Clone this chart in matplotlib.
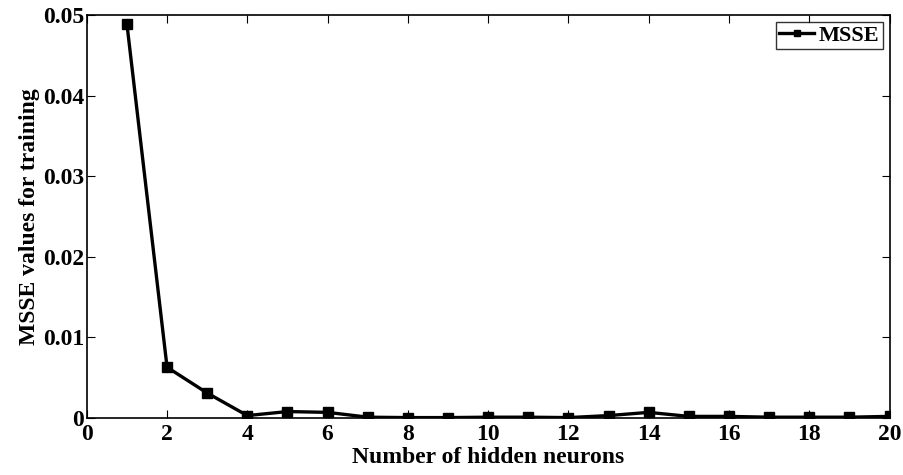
import numpy as np
import matplotlib.pyplot as plt

plt.rcParams['font.family'] = 'Liberation Serif'
plt.rcParams['font.weight'] = 'bold'

# data
neurons = list(range(1, 21))
msse = [0.0489, 0.0063, 0.0031, 0.0003, 0.0008, 0.0007, 0.0001, 0.00005, 0.00005, 0.0001,
        0.0001, 0.00005, 0.0003, 0.0007, 0.0002, 0.0002, 0.0001, 0.0001, 0.0001, 0.0002]

fig = plt.figure(figsize=(9.04, 4.75), dpi=100)
ax = fig.add_axes([0.096, 0.12, 0.888, 0.848])

ax.plot(neurons, msse, color='black', linewidth=2.4, marker='s', markersize=7,
        markerfacecolor='black', label='MSSE')

ax.set_xlim(0, 20)
ax.set_ylim(0, 0.05)
ax.set_xticks(np.arange(0, 21, 2))
ax.set_yticks([0, 0.01, 0.02, 0.03, 0.04, 0.05])
ax.set_yticklabels(['0', '0.01', '0.02', '0.03', '0.04', '0.05'])
ax.tick_params(direction='in', top=True, right=True, labelsize=17, length=6, pad=2)
ax.tick_params(axis='x', pad=4)
for s in ax.spines.values():
    s.set_linewidth(1.2)

ax.set_xlabel('Number of hidden neurons', fontsize=17, fontweight='bold', labelpad=2)
ax.set_ylabel('MSSE values for training', fontsize=17, fontweight='bold', labelpad=2)

leg = ax.legend(loc='upper right', fontsize=16, fancybox=False, edgecolor='black',
                handlelength=1.6, borderpad=0.15, handletextpad=0.2, markerscale=0.7,
                borderaxespad=0.3)
leg.get_frame().set_linewidth(1.0)
for t in leg.get_texts():
    t.set_fontweight('bold')

plt.savefig('out.png', dpi=100)
